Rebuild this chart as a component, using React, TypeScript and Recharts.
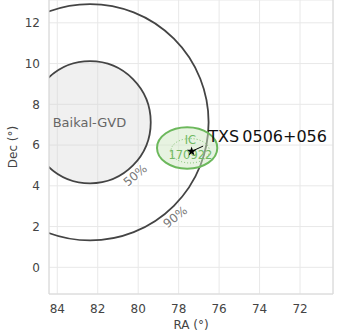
import React from "react";
import {
  ScatterChart,
  Scatter,
  XAxis,
  YAxis,
  CartesianGrid,
  ReferenceArea,
  ReferenceLine,
  Symbols,
} from "recharts";

const FONT = "'DejaVu Sans', sans-serif";

// axes (RA runs right-to-left, as on the sky)
const raTicks = [84, 82, 80, 78, 76, 74, 72];
const decTicks = [0, 2, 4, 6, 8, 10, 12];
const raDomain: [number, number] = [70.37, 84.41];
const decDomain: [number, number] = [-1.31, 13.12];

// error regions: centre and half-extent in degrees
const regionNames = ["gvd90", "gvd50", "ic90", "ic50"];
const regionRa = [82.38, 82.38, 77.58, 77.43];
const regionDec = [7.12, 7.12, 5.86, 5.72];
const regionHalfRa = [5.86, 3.0, 1.49, 0.95];
const regionHalfDec = [5.8, 3.0, 1.02, 0.6];

// blazar position and the end of its pointer
const sourceRa = [77.36];
const sourceDec = [5.69];
const pointerEnd = { ra: 76.79, dec: 5.95 };

// text annotations, anchored in sky coordinates
const labelText = ["Baikal-GVD", "50%", "90%", "IC", "170922", "TXS\u20090506+056"];
const labelRa = [82.41, 80.15, 78.17, 77.42, 77.42, 76.54];
const labelDec = [7.12, 4.52, 2.47, 6.24, 5.52, 6.44];

const regionStyle: Record<string, React.SVGProps<SVGEllipseElement>> = {
  gvd90: { fill: "none", stroke: "#444", strokeWidth: 1.8 },
  gvd50: { fill: "#d4d4d4", fillOpacity: 0.35, stroke: "#444", strokeWidth: 1.8 },
  ic90: { fill: "#cfe8c4", fillOpacity: 0.5, stroke: "#6cb85c", strokeWidth: 2 },
  ic50: { fill: "none", stroke: "#7cc06c", strokeWidth: 1, strokeDasharray: "1 2" },
};

const labelStyle = [
  { size: 13, color: "#666", angle: 0, anchor: "middle", halo: false },
  { size: 12, color: "#777", angle: -40, anchor: "middle", halo: true },
  { size: 12, color: "#777", angle: -38, anchor: "middle", halo: true },
  { size: 11.5, color: "#72b863", angle: 0, anchor: "middle", halo: false },
  { size: 11.5, color: "#72b863", angle: 0, anchor: "middle", halo: false },
  { size: 16, color: "#111", angle: 0, anchor: "start", halo: false },
];

const regions = regionNames.map((name, i) => ({
  name,
  x1: regionRa[i] + regionHalfRa[i],
  x2: regionRa[i] - regionHalfRa[i],
  y1: regionDec[i] - regionHalfDec[i],
  y2: regionDec[i] + regionHalfDec[i],
}));

const source = sourceRa.map((ra, i) => ({ ra, dec: sourceDec[i] }));

const labels = labelText.map((text, i) => ({
  text,
  ra: labelRa[i],
  dec: labelDec[i],
  idx: i,
}));

// ReferenceArea hands over the pixel box of the region; draw the inscribed ellipse
const ellipse = (name: string) => (props: any) => {
  const { x, y, width, height, clipPath } = props;
  return (
    <ellipse
      cx={x + width / 2}
      cy={y + height / 2}
      rx={Math.abs(width) / 2}
      ry={Math.abs(height) / 2}
      clipPath={clipPath}
      {...regionStyle[name]}
    />
  );
};

const renderLabel = (props: any) => {
  const { cx, cy, payload } = props;
  const s = labelStyle[payload.idx];
  return (
    <text
      x={cx}
      y={cy}
      dy="0.35em"
      textAnchor={s.anchor}
      fontSize={s.size}
      fontFamily={FONT}
      fill={s.color}
      transform={s.angle ? `rotate(${s.angle} ${cx} ${cy})` : undefined}
      stroke={s.halo ? "#fff" : undefined}
      strokeWidth={s.halo ? 3 : undefined}
      paintOrder="stroke"
    >
      {payload.text}
    </text>
  );
};

const renderStar = (props: any) => (
  <Symbols cx={props.cx} cy={props.cy} type="star" size={28} fill="#000" />
);

const tickStyle = { fontSize: 12, fill: "#444", fontFamily: FONT };

export default function App() {
  return (
    <div style={{ width: 347, height: 333, background: "#fff" }}>
      <style>{"body{margin:0}"}</style>
      <ScatterChart width={347} height={333} margin={{ top: 0, right: 14, bottom: 0, left: 0 }}>
        <CartesianGrid stroke="#e8e8e8" />
        <XAxis
          type="number"
          dataKey="ra"
          domain={raDomain}
          reversed
          allowDataOverflow
          ticks={raTicks}
          tickLine={false}
          tickSize={0}
          tickMargin={10}
          axisLine={{ stroke: "#d8d8d8" }}
          tick={tickStyle}
          height={39}
          label={(p: any) => (
            <text
              x={p.viewBox.x + p.viewBox.width / 2}
              y={p.viewBox.y + 35}
              textAnchor="middle"
              fontSize={12}
              fontFamily={FONT}
              fill="#444"
            >
              RA (°)
            </text>
          )}
        />
        <YAxis
          type="number"
          dataKey="dec"
          domain={decDomain}
          allowDataOverflow
          ticks={decTicks}
          tickLine={false}
          tickSize={0}
          tickMargin={9}
          axisLine={{ stroke: "#d8d8d8" }}
          tick={tickStyle}
          width={49}
          label={(p: any) => {
            const cy = p.viewBox.y + p.viewBox.height / 2;
            return (
              <text
                x={16.5}
                y={cy}
                transform={`rotate(-90 16.5 ${cy})`}
                textAnchor="middle"
                fontSize={12}
                fontFamily={FONT}
                fill="#444"
              >
                Dec (°)
              </text>
            );
          }}
        />
        <ReferenceLine x={raDomain[0]} stroke="#d8d8d8" />
        {regions.map((r) => (
          <ReferenceArea
            key={r.name}
            x1={r.x1}
            x2={r.x2}
            y1={r.y1}
            y2={r.y2}
            ifOverflow="hidden"
            shape={ellipse(r.name)}
          />
        ))}
        <ReferenceLine
          segment={[
            { x: source[0].ra, y: source[0].dec },
            { x: pointerEnd.ra, y: pointerEnd.dec },
          ]}
          stroke="#000"
          strokeWidth={1}
          ifOverflow="visible"
        />
        <Scatter data={labels} shape={renderLabel} isAnimationActive={false} />
        <Scatter data={source} shape={renderStar} isAnimationActive={false} />
      </ScatterChart>
    </div>
  );
}
